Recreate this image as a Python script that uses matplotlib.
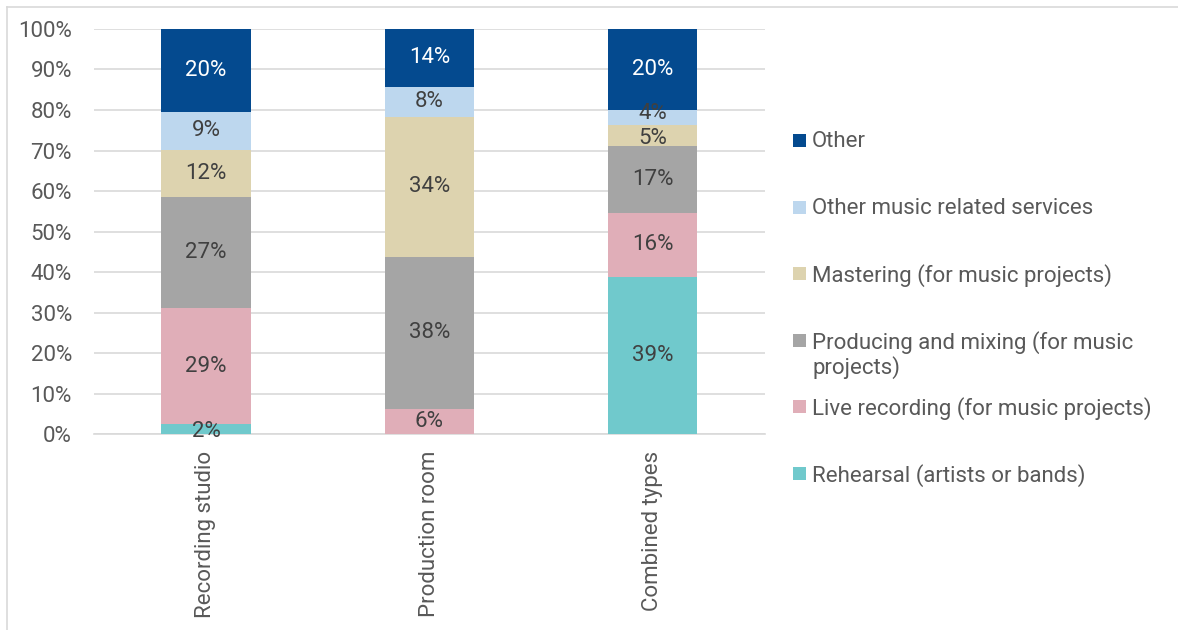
import matplotlib
matplotlib.use('Agg')
import matplotlib.pyplot as plt
from matplotlib.patches import Rectangle
from matplotlib.lines import Line2D
import numpy as np

plt.rcParams['font.family'] = ['Roboto', 'DejaVu Sans']

# Categories and series (share in %)
categories = ['Recording studio', 'Production room', 'Combined types']
series_names = ['Rehearsal (artists or bands)',
                'Live recording (for music projects)',
                'Producing and mixing (for music\nprojects)',
                'Mastering (for music projects)',
                'Other music related services',
                'Other']
rehearsal = [2.4, 0.0, 38.8]
live_recording = [28.8, 6.2, 15.8]
producing_mixing = [27.2, 37.6, 16.6]
mastering = [11.8, 34.4, 5.2]
other_music = [9.4, 7.6, 3.7]
other = [20.4, 14.2, 19.9]
labels_rec = ['2%', '29%', '27%', '12%', '9%', '20%']
labels_prod = ['', '6%', '38%', '34%', '8%', '14%']
labels_comb = ['39%', '16%', '17%', '5%', '4%', '20%']

colors = ['#70C9CC', '#E0AEB8', '#A5A5A5', '#DDD3AF', '#BDD7EE', '#044A8F']
text_grey = '#595959'
label_dark = '#404040'
fs = 16

values = [rehearsal, live_recording, producing_mixing, mastering, other_music, other]
bar_labels = list(zip(labels_rec, labels_prod, labels_comb))

# small nudges for crowded labels (series index, category index) -> shift in %
nudge = {(0, 0): -0.5, (3, 2): -0.8, (4, 2): 1.0}

fig = plt.figure(figsize=(11.78, 6.30), dpi=100)
ax = fig.add_axes([0.080, 0.311, 0.569, 0.643])

x = np.arange(len(categories))
bottom = np.zeros(len(categories))
for i, vals in enumerate(values):
    vals = np.array(vals)
    ax.bar(x, vals, width=0.4, bottom=bottom, color=colors[i], zorder=2)
    for j in range(len(categories)):
        lab = bar_labels[i][j]
        if lab == '':
            continue
        ypos = bottom[j] + vals[j] / 2 + nudge.get((i, j), 0)
        ax.text(x[j], ypos, lab, ha='center', va='center', fontsize=fs,
                color='white' if i == 5 else label_dark, zorder=3)
    bottom += vals

ax.set_xlim(-0.5, 2.5)
ax.set_ylim(0, 100)
ax.set_yticks(np.arange(0, 101, 10))
ax.set_yticklabels([f'{v}%' for v in range(0, 101, 10)])
ax.set_xticks(x)
ax.set_xticklabels(categories, rotation=90)
ax.yaxis.grid(True, color='#D9D9D9', linewidth=1.2, zorder=0)
ax.set_axisbelow(True)
for s in ax.spines.values():
    s.set_visible(False)
ax.tick_params(axis='y', length=0, pad=16, labelsize=fs, labelcolor=text_grey)
ax.tick_params(axis='x', length=0, pad=12, labelsize=fs, labelcolor=text_grey)
ax.axhline(0, color='#D9D9D9', linewidth=1.2, zorder=1, clip_on=False)

# Legend drawn by hand, top to bottom
W, H = 1178, 630
for k, i in enumerate(range(len(series_names) - 1, -1, -1)):
    yc = 141 + k * 66.6
    fig.add_artist(Rectangle((793 / W, 1 - (yc + 6) / H), 13 / W, 13 / H,
                             transform=fig.transFigure, color=colors[i], lw=0))
    fig.text(812 / W, 1 - (yc - 10) / H, series_names[i], ha='left', va='top',
             fontsize=fs, color=text_grey, linespacing=1.1)

# Frame lines (top and left)
fig.add_artist(Line2D([7 / W, 1], [1 - 7 / H, 1 - 7 / H], transform=fig.transFigure,
                      color='#D9D9D9', lw=1.2))
fig.add_artist(Line2D([7 / W, 7 / W], [0, 1 - 7 / H], transform=fig.transFigure,
                      color='#D9D9D9', lw=1.2))

fig.savefig('out.png', dpi=100)
